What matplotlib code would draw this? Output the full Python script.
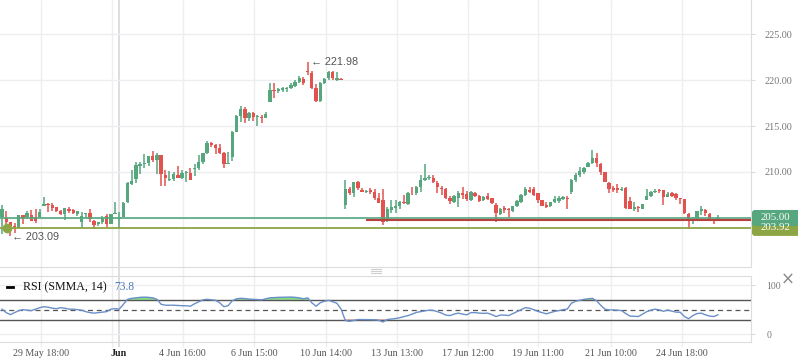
import numpy as np
import matplotlib
matplotlib.use('Agg')
import matplotlib.pyplot as plt
from matplotlib.patches import FancyBboxPatch
from matplotlib.lines import Line2D
from matplotlib.transforms import IdentityTransform

plt.rcParams['font.family'] = ['Liberation Serif', 'DejaVu Serif']

# ---- hourly OHLC ----
opens = [205.07, 204.97, 204.60, 204.17, 203.88, 205.33, 205.08, 205.33, 205.14, 205.08,
         206.30, 206.56, 206.45, 206.16, 205.76, 205.43, 206.01, 205.87, 205.43, 204.60,
         205.43, 205.58, 204.69, 204.35, 204.60, 205.22, 204.31, 205.43, 204.86, 205.14,
         206.77, 208.66, 209.24, 210.69, 210.90, 211.01, 211.74, 211.34, 211.85, 209.67,
         209.13, 209.24, 209.67, 209.38, 209.86, 209.86, 210.33, 210.40, 211.12, 212.10,
         213.18, 212.93, 212.57, 212.03, 210.83, 211.67, 214.38, 216.12, 216.85, 215.90,
         216.38, 215.98, 215.99, 215.90, 217.64, 218.91, 218.80, 218.95, 219.02, 219.16,
         219.38, 219.82, 220.11, 220.98, 220.72, 219.16, 217.72, 219.71, 220.18, 220.90,
         220.03, 220.11, 206.41, 208.15, 207.68, 208.95, 208.04, 207.86, 208.04, 207.86,
         207.14, 206.96, 204.71, 205.87, 206.05, 206.30, 206.77, 206.52, 207.75, 207.68,
         208.41, 209.13, 209.31, 209.38, 208.84, 208.30, 208.12, 207.14, 206.77, 207.14,
         207.75, 207.57, 206.96, 207.75, 207.39, 206.96, 207.39, 207.14, 206.41, 205.40,
         206.05, 205.94, 205.80, 206.30, 206.77, 207.50, 208.04, 208.12, 207.68, 206.96,
         206.38, 206.30, 206.77, 206.88, 207.03, 207.14, 207.86, 209.13, 209.67, 209.97,
         210.58, 210.94, 211.49, 210.87, 210.04, 208.84, 208.22, 208.22, 208.04, 208.22,
         206.85, 205.94, 206.23, 205.98, 206.96, 207.39, 207.86, 208.04, 208.04, 207.32,
         207.68, 207.61, 207.14, 207.03, 205.43, 204.67, 204.78, 205.80, 205.87, 205.40,
         204.78, 204.86]
highs = [206.41, 205.80, 204.60, 204.49, 205.33, 205.33, 205.76, 205.87, 205.94, 205.94,
         207.32, 206.67, 206.67, 206.23, 205.87, 206.12, 206.23, 205.94, 205.76, 205.69,
         205.58, 205.94, 204.78, 204.60, 205.22, 205.40, 205.40, 206.77, 205.69, 206.77,
         208.95, 210.22, 211.05, 211.05, 211.96, 211.74, 212.28, 212.03, 211.85, 210.22,
         210.11, 209.97, 210.65, 210.22, 210.14, 210.40, 210.83, 211.85, 212.10, 213.37,
         213.30, 213.01, 213.01, 212.21, 212.21, 214.46, 216.20, 217.17, 217.03, 216.56,
         216.56, 216.20, 216.20, 216.49, 219.64, 219.64, 219.09, 219.20, 219.27, 219.64,
         220.00, 220.47, 220.36, 221.98, 220.98, 219.53, 219.82, 220.18, 220.98, 220.98,
         220.90, 220.25, 209.13, 208.41, 208.95, 209.02, 208.30, 208.04, 208.30, 208.12,
         207.75, 208.12, 206.23, 206.96, 206.96, 206.88, 207.50, 207.86, 208.33, 208.48,
         209.67, 210.87, 209.67, 209.67, 209.05, 208.48, 208.23, 207.39, 207.50, 207.97,
         208.41, 207.97, 207.97, 207.86, 207.50, 207.39, 207.75, 207.21, 206.60, 206.05,
         206.30, 206.05, 206.30, 206.96, 207.57, 208.33, 208.33, 208.41, 207.68, 206.96,
         206.77, 206.77, 207.39, 207.39, 207.39, 207.39, 209.20, 209.86, 210.58, 210.58,
         211.12, 212.39, 212.10, 210.94, 210.04, 208.95, 208.48, 208.70, 208.41, 208.41,
         207.32, 206.77, 206.30, 206.52, 208.15, 207.97, 208.15, 208.15, 208.04, 207.86,
         207.86, 207.68, 207.14, 207.03, 205.51, 205.14, 205.80, 206.30, 205.94, 205.51,
         204.78, 205.33]
lows = [203.26, 204.06, 203.09, 203.33, 203.88, 204.35, 204.86, 204.71, 204.45, 204.97,
        206.30, 205.69, 205.80, 205.69, 205.33, 204.78, 205.51, 205.43, 205.22, 203.88,
        204.97, 204.60, 203.80, 204.17, 204.35, 203.99, 204.31, 205.43, 203.88, 205.08,
        206.60, 208.59, 208.77, 209.75, 210.47, 210.69, 211.12, 209.75, 208.51, 208.51,
        209.02, 209.02, 209.31, 209.24, 208.95, 209.13, 209.60, 210.22, 210.83, 211.92,
        212.75, 211.96, 211.96, 210.47, 210.83, 211.20, 214.31, 215.47, 215.29, 215.54,
        215.54, 215.03, 215.36, 215.83, 217.64, 218.01, 218.55, 218.66, 218.73, 218.99,
        219.27, 219.64, 219.46, 220.54, 218.99, 217.64, 217.64, 219.53, 220.00, 220.00,
        219.89, 219.95, 205.98, 207.50, 207.32, 208.04, 207.79, 207.75, 207.57, 206.96,
        206.60, 204.24, 204.60, 205.58, 205.51, 205.94, 206.52, 206.41, 207.50, 207.50,
        207.86, 209.05, 209.13, 208.84, 207.75, 207.50, 207.03, 206.52, 206.60, 206.23,
        207.03, 206.85, 206.85, 207.32, 206.77, 206.85, 206.96, 206.52, 204.60, 205.33,
        205.58, 205.07, 205.69, 206.23, 206.67, 207.39, 207.68, 207.39, 206.67, 206.30,
        206.05, 206.23, 206.60, 206.67, 206.96, 205.98, 207.61, 208.95, 209.42, 209.78,
        210.51, 210.87, 210.58, 209.67, 208.88, 207.75, 207.86, 207.75, 207.97, 205.98,
        205.94, 205.80, 205.69, 205.94, 206.96, 207.32, 207.75, 207.75, 206.41, 207.25,
        207.25, 206.96, 206.52, 205.43, 203.77, 204.35, 204.71, 205.33, 205.22, 204.78,
        204.31, 204.71]
closes = [205.98, 204.57, 204.17, 203.88, 205.33, 204.97, 205.51, 204.71, 204.71, 205.69,
          206.52, 206.45, 206.12, 205.80, 205.43, 206.12, 205.80, 205.51, 205.76, 205.22,
          205.58, 204.86, 204.24, 204.57, 204.97, 204.35, 205.40, 205.51, 205.14, 206.60,
          208.77, 209.02, 210.76, 210.90, 211.01, 211.74, 211.30, 211.85, 209.75, 209.38,
          209.24, 209.78, 209.38, 209.86, 209.97, 209.13, 210.40, 211.05, 212.03, 213.12,
          212.93, 212.64, 212.10, 210.83, 211.01, 214.31, 216.12, 216.85, 215.90, 216.38,
          215.99, 216.09, 215.90, 216.30, 218.91, 218.80, 218.99, 219.09, 219.16, 219.46,
          219.82, 220.25, 219.64, 220.84, 219.09, 217.72, 219.64, 220.11, 220.90, 220.18,
          220.18, 220.03, 208.15, 207.68, 208.95, 208.22, 207.86, 207.93, 207.86, 207.14,
          206.67, 204.60, 205.94, 206.23, 206.30, 206.77, 206.60, 207.75, 207.68, 208.33,
          209.13, 209.31, 209.49, 208.95, 208.33, 208.15, 207.14, 206.88, 207.39, 207.75,
          207.50, 207.03, 207.86, 207.39, 206.85, 207.32, 207.03, 206.60, 205.58, 205.94,
          205.87, 205.87, 206.30, 206.88, 207.50, 208.12, 207.86, 207.50, 206.96, 206.30,
          206.23, 206.77, 207.03, 207.14, 207.25, 207.07, 209.13, 209.67, 210.11, 210.47,
          211.01, 211.49, 210.94, 210.04, 208.95, 208.12, 208.04, 208.04, 208.12, 206.05,
          205.94, 206.23, 206.05, 206.52, 207.39, 207.86, 207.97, 207.97, 207.32, 207.61,
          207.39, 207.14, 207.03, 205.51, 204.86, 204.78, 205.80, 205.94, 205.51, 204.78,
          204.71, 205.00]

# RSI (SMMA, 14), one value per candle
rsi = [51, 44, 40, 44, 48, 50, 49, 48, 51, 54,
       56, 55, 53, 52, 54, 53, 51, 51, 50, 49,
       46, 44, 43, 44, 45, 46, 51, 52, 51, 61,
       71, 73, 74, 75, 75.5, 75, 74, 71, 61, 59,
       59, 59, 58.5, 58, 58, 57, 62, 66, 70, 71,
       70, 69, 64, 56, 58, 68, 72, 73, 72.5, 71.5,
       71, 70.5, 70, 72, 74, 74.5, 75, 75.2, 75.4, 75.6,
       75, 74, 72, 74, 64, 57, 64, 67, 69, 66,
       63, 51, 28, 26.5, 28, 30, 30, 29.8, 29.7, 29.5,
       28.5, 25, 30, 31, 32, 33.6, 36, 38, 41, 44.5,
       46, 47.5, 49, 48.5, 46, 43, 39, 38, 41, 43,
       41, 39.5, 44, 44, 43, 42.5, 43, 40, 36, 39,
       39, 38, 42, 46, 50, 54, 53, 50, 46.5, 44,
       41.5, 44, 46.5, 48, 50, 51, 63, 67, 69, 71,
       72, 73, 68, 59, 51, 49.5, 49.5, 49, 48, 42,
       37, 36.5, 36, 41, 46, 49, 51, 49.5, 46.7, 49.3,
       47, 45, 44.8, 36, 31.6, 38, 42, 43, 39.5, 37,
       36, 39.5]

tick_labels = ['29 May 18:00', 'Jun', '4 Jun 16:00', '6 Jun 15:00', '10 Jun 14:00',
               '13 Jun 13:00', '17 Jun 12:00', '19 Jun 11:00', '21 Jun 10:00', '24 Jun 18:00']
tick_pos = [9.24, 27.94, 43.16, 60.19, 77.31, 94.27, 111.2, 128.0, 145.4, 162.3]
grid_pos = [9.24, 26.2, 43.16, 60.19, 77.31, 94.27, 111.2, 128.0, 145.4, 162.3]

last_price = 205.00
support = 203.92
red_level = 204.75
red_start = 87
high_idx, high_val = 73, 221.98
low_idx, low_val = 2, 203.09

GREEN = '#56a67e'
RED = '#e2534f'
OLIVE = '#8ea544'
GRID = '#eceef1'
SPINE = '#dcdcdc'

W, H = 798, 363
def rect(x0, y0, x1, y1):
    return [x0 / W, 1 - y1 / H, (x1 - x0) / W, (y1 - y0) / H]

xlim = (-0.48, 178.9)
idx = np.arange(len(closes))
o, h, l, c = map(np.array, (opens, highs, lows, closes))
r = np.array(rsi, dtype=float)

fig = plt.figure(figsize=(W / 100, H / 100), dpi=100)

# background: vertical grid through both panels
bg = fig.add_axes(rect(0, 0, 751, 363))
bg.set_xlim(xlim)
bg.set_ylim(363, 0)
bg.axis('off')
bg.vlines(grid_pos, 0, 347, color=GRID, lw=1)
bg.vlines(27.94, 0, 347, color='#d6d8dc', lw=1.2)

# ----- price panel -----
ax = fig.add_axes(rect(0, 0, 751, 267))
ax.patch.set_alpha(0)
ax.set_xlim(xlim)
ax.set_ylim(199.67, 228.70)
for s in ('top', 'left'):
    ax.spines[s].set_visible(False)
for s in ('bottom', 'right'):
    ax.spines[s].set_color(SPINE)
ax.set_xticks([])
ax.yaxis.tick_right()
ax.set_yticks([205, 210, 215, 220, 225])
ax.set_yticklabels(['', '210.00', '215.00', '220.00', '225.00'])
ax.tick_params(axis='y', length=3, color=SPINE, labelsize=7.3, labelcolor='#777777', pad=7)
ax.grid(axis='y', color=GRID, lw=1)
ax.set_axisbelow(True)

cols = np.where(c >= o, GREEN, RED)
ax.vlines(idx, l, h, colors=cols, lw=1.1, zorder=2)
ax.bar(idx, np.maximum(np.abs(c - o), 0.08), bottom=np.minimum(o, c), width=0.8,
       color=cols, linewidth=0, zorder=2)

ax.axhline(last_price, color=GREEN, lw=1.2, zorder=3)
ax.axhline(support, color=OLIVE, lw=1.3, zorder=3)
ax.hlines(red_level, red_start, xlim[1], color='#b8403e', lw=1.5, zorder=3)
ax.plot(1.2, support, 'o', ms=6, color=OLIVE, zorder=4)

ax.annotate(f'\u2190 {high_val:.2f}', xy=(high_idx, high_val), xytext=(2.5, 0),
            textcoords='offset points', va='center', ha='left', fontsize=7.8,
            color='#555555', family=['Liberation Sans', 'DejaVu Sans'])
ax.annotate(f'\u2190 {low_val:.2f}', xy=(low_idx, low_val), xytext=(1, -1.2),
            textcoords='offset points', va='center', ha='left', fontsize=7.8,
            color='#555555', family=['Liberation Sans', 'DejaVu Sans'])

# price tags on the right
for val, col in ((support, OLIVE), (last_price, GREEN)):
    ypx = ax.transData.transform((0, val))[1]
    fig.add_artist(FancyBboxPatch((752, ypx - 8), 60, 16,
                                  boxstyle='round,pad=0,rounding_size=3',
                                  fc=col, ec='none', transform=IdentityTransform()))
    fig.text(761 / W, ypx / H, f'{val:.2f}', color='white', fontsize=7.8,
             va='center', ha='left')

# ----- RSI panel -----
ra = fig.add_axes(rect(0, 276, 751, 342))
ra.patch.set_alpha(0)
ra.set_xlim(xlim)
ra.set_ylim(-15.6, 118.3)
ra.spines['left'].set_visible(False)
for s in ('top', 'bottom', 'right'):
    ra.spines[s].set_color(SPINE)
ra.axhline(100, color=GRID, lw=1)
ra.axhline(0, color=GRID, lw=1)
ra.fill_between(idx, r, 70, where=r > 70, interpolate=True, color='#7fdc7f', lw=0)
ra.fill_between(idx, r, 30, where=r < 30, interpolate=True, color='#e07a7a', lw=0)
ra.axhline(70, color='#555555', lw=1)
ra.axhline(30, color='#555555', lw=1)
ra.axhline(50, color='#555555', lw=0.9, ls=(0, (4, 3)))
ra.plot(idx, r, color='#6b8fc9', lw=1)

ra.yaxis.tick_right()
ra.set_yticks([0, 100])
ra.tick_params(axis='y', length=3, color=SPINE, labelsize=7, labelcolor='#777777', pad=8)
ra.set_xticks(tick_pos)
ra.set_xticklabels(tick_labels)
ra.tick_params(axis='x', length=0, pad=5, labelsize=7.2, labelcolor='#555555')
for lab in ra.get_xticklabels():
    if lab.get_text() == 'Jun':
        lab.set_fontweight('bold')
        lab.set_color('#222222')

# legend of the indicator
fig.add_artist(Line2D([7 / W, 13 / W], [1 - 287 / H] * 2, color='black', lw=2))
fig.text(23 / W, 1 - 287 / H, 'RSI (SMMA, 14)', fontsize=8.6, va='center', color='#111111')
fig.text(114 / W, 1 - 287 / H, '73.8', fontsize=8.3, va='center', color='#4a78b8')
fig.text(788 / W, 1 - 280 / H, '\u00d7', fontsize=12, va='center', ha='center', color='#8a8a8a',
         family=['DejaVu Sans'])

# panel resize grip
for dy in (268.5, 270.5, 272.5):
    fig.add_artist(Line2D([371 / W, 381 / W], [1 - dy / H] * 2, color='#cfcfcf', lw=0.8))

fig.savefig('out.png', dpi=100)
